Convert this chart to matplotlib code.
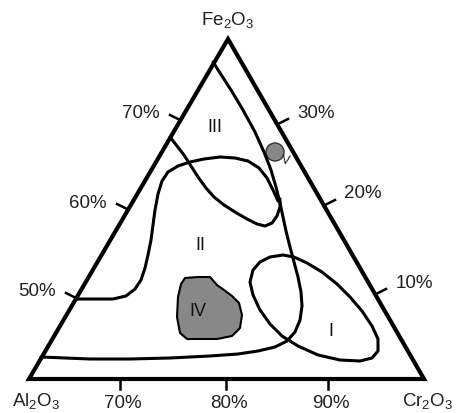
import matplotlib

matplotlib.use("Agg")
import matplotlib.pyplot as plt
from matplotlib.patches import Circle, Polygon

plt.rcParams["font.family"] = ["Liberation Sans", "DejaVu Sans"]
plt.rcParams["mathtext.fontset"] = "custom"
plt.rcParams["mathtext.rm"] = "Liberation Sans"

# diagram coordinates (x right, y down), one unit ~ one pixel of the source
corners = {"Fe2O3": (228, 39), "Al2O3": (29, 379), "Cr2O3": (424, 379)}

bottom_ticks = [120, 226, 328]
bottom_labels = ["70%", "80%", "90%"]
left_ticks = [(180, 120), (127, 209), (76, 298)]
left_labels = ["70%", "60%", "50%"]
right_ticks = [(278, 124), (325, 205), (376, 294)]
right_labels = ["30%", "20%", "10%"]

# boundary of field II / III (runs from the top down the right side and back along the bottom)
curve_a = [(213, 62), (222, 76), (231, 90), (243, 110), (255, 132), (264, 152),
           (271, 170), (276, 187), (280, 203), (283, 217), (286, 231), (290, 247),
           (294, 262), (298, 277), (301, 292), (302, 306), (300, 320), (295, 332),
           (287, 341), (275, 347), (258, 351), (238, 354), (210, 356), (170, 358),
           (130, 359), (90, 359), (41, 357)]
# lower edge of field III
curve_b = [(170, 137), (177, 146), (184, 155), (191, 166), (198, 177), (206, 188),
           (214, 197), (224, 205), (235, 212), (247, 219), (257, 224), (265, 226),
           (272, 223), (277, 216), (280, 207), (280, 199)]
# upper edge of field II
curve_c = [(77, 299), (95, 299), (113, 299), (126, 296), (135, 289), (141, 280),
           (145, 268), (148, 255), (151, 240), (153, 225), (155, 210), (158, 194),
           (162, 181), (168, 172), (178, 166), (190, 162), (204, 159), (220, 157),
           (235, 158), (248, 161), (259, 168), (267, 178), (273, 190), (278, 201)]
# field I
field_i = [(253, 270), (260, 262), (270, 257), (283, 255), (294, 257), (307, 263),
           (322, 272), (337, 284), (350, 297), (362, 311), (372, 326), (378, 339),
           (378, 351), (372, 358), (360, 361), (340, 360), (318, 355), (298, 346),
           (282, 336), (270, 324), (260, 310), (253, 295), (250, 282)]
# field IV (shaded)
field_iv = [(185, 278), (198, 277), (210, 277), (217, 285), (224, 290), (232, 296),
            (239, 303), (242, 315), (240, 328), (232, 336), (217, 339), (200, 339),
            (187, 339), (180, 333), (177, 317), (178, 297), (181, 284)]
# field V (shaded dot)
field_v_center = (275, 152)
field_v_radius = 9

field_names = ["III", "II", "I", "IV"]
field_name_pos = [(215, 127), (200, 245), (331, 332), (198, 312)]

fig = plt.figure(figsize=(4.59, 4.13), dpi=100)
ax = fig.add_axes([0, 0, 1, 1])
ax.set_xlim(0, 459)
ax.set_ylim(413, 0)
ax.axis("off")

tri = [corners["Al2O3"], corners["Fe2O3"], corners["Cr2O3"]]
ax.add_patch(Polygon(tri, closed=True, fill=False, ec="black", lw=3.0, joinstyle="miter"))

for curve in (curve_a, curve_b, curve_c):
    xs, ys = zip(*curve)
    ax.plot(xs, ys, color="black", lw=2.2, solid_capstyle="round", solid_joinstyle="round")

ax.add_patch(Polygon(field_i, closed=True, fill=False, ec="black", lw=2.2, joinstyle="round"))
ax.add_patch(Polygon(field_iv, closed=True, fc="#888888", ec="black", lw=1.5, joinstyle="round"))
ax.add_patch(Circle(field_v_center, field_v_radius, fc="#888888", ec="#333333", lw=1.0))
ax.text(286, 161, "V", fontsize=9, ha="center", va="center", rotation=-10, color="#222222")

for name, (x, y) in zip(field_names, field_name_pos):
    ax.text(x, y, name, fontsize=13, ha="center", va="center", color="#111111")

txt = dict(fontsize=13.5, ha="center", va="center", color="#222222")

# ticks and labels
for x, lab in zip(bottom_ticks, bottom_labels):
    ax.plot([x, x], [379, 389], color="black", lw=1.8)
    ax.text(x + 3, 404, lab, **txt)

for (x, y), lab in zip(left_ticks, left_labels):
    ax.plot([x, x - 10], [y, y - 5], color="black", lw=1.8)
    ax.text(x - 39, y - 6, lab, **txt)

for (x, y), lab in zip(right_ticks, right_labels):
    ax.plot([x, x + 10], [y, y - 5], color="black", lw=1.8)
    ax.text(x + 38, y - 11, lab, **txt)

ax.text(228, 20, r"Fe$\mathregular{_2}$O$\mathregular{_3}$", **txt)
ax.text(36, 401, r"Al$\mathregular{_2}$O$\mathregular{_3}$", **txt)
ax.text(428, 401, r"Cr$\mathregular{_2}$O$\mathregular{_3}$", **txt)

fig.savefig("out.png", dpi=100)
